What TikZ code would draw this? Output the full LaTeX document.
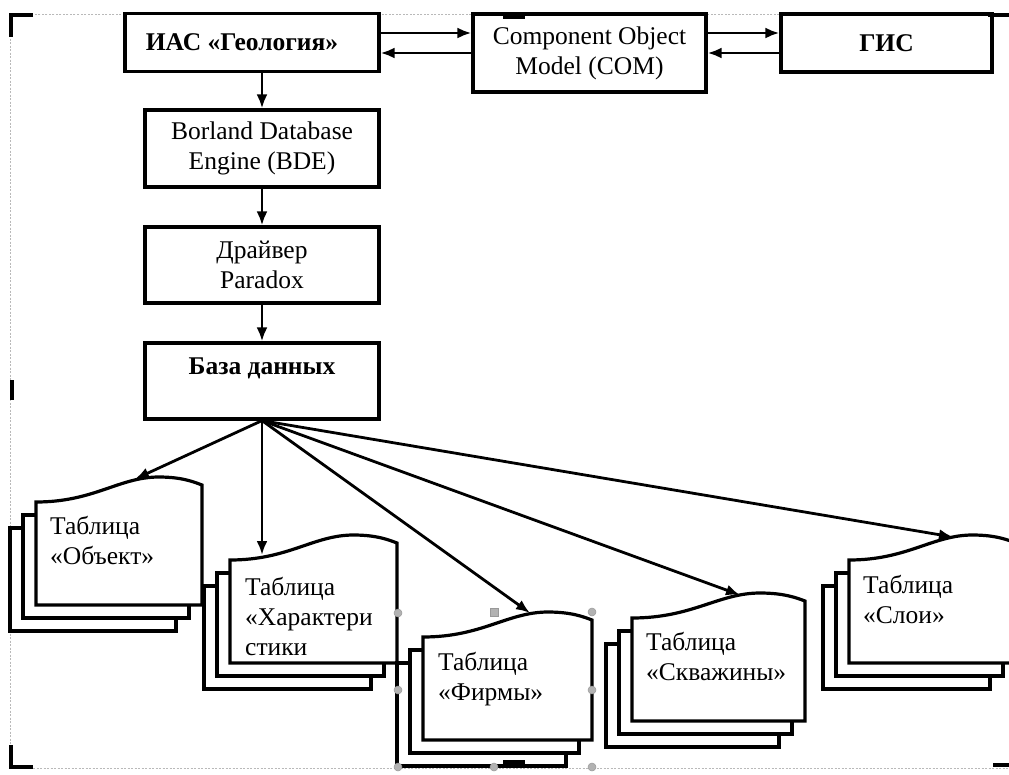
\documentclass[tikz,border=0pt]{standalone}
\usepackage{fontspec}
\setmainfont{Liberation Serif}
\usetikzlibrary{arrows.meta,calc}
\newcommand\mdocshape[5]{% #1 name, #2 L, #3 yTL, #4 R, #5 bottom
  \draw[doc] ({#2-26},{#3+26}) rectangle ({#4-26},{#5+26});
  \draw[doc] ({#2-13},{#3+13}) rectangle ({#4-13},{#5+13});
  \draw[doc] (#2,#3) .. controls ({#2+0.35*(#4-#2)},#3) and ({#2+0.5*(#4-#2)},{#3-25}) .. ({#2+0.74*(#4-#2)},{#3-25})
     .. controls ({#2+0.88*(#4-#2)},{#3-25}) and ({#4-8},{#3-20}) .. (#4,{#3-17}) -- (#4,#5) -- (#2,#5) -- cycle;
  \coordinate (#1) at ({(#2+#4)/2},{(#3+#5)/2});
}
\begin{document}
\begin{tikzpicture}[x=1pt,y=-1pt,
  box/.style={draw,line width=3.2pt,fill=white,align=center,inner sep=0pt,font=\fontsize{25.5}{30}\selectfont},
  bbox/.style={box,font=\fontsize{25.5}{30}\selectfont\bfseries},
  arr/.style={line width=2.8pt,-{Latex[length=14pt,width=11pt]}},
  doc/.style={draw,line width=3.2pt,fill=white,line join=miter},
  txt/.style={anchor=north west,align=left,inner sep=0pt,font=\fontsize{25.5}{30}\selectfont},
  frame/.style={gray!55,line width=0.9pt,dash pattern=on 2pt off 1.5pt},
  cropmark/.style={line width=3.2pt},
  handle/.style={fill=gray!60,draw=gray!80,line width=0.5pt}]
\useasboundingbox (0,0) rectangle (1009,774);
\clip (0,0) rectangle (1009,774);
\fill[white] (0,0) rectangle (1009,774);
\draw[frame] (10,14) rectangle (1030,768);

% top boxes
\node[bbox,minimum width=254pt,minimum height=58pt] (ias) at (252,42.5) {ИАС «Геология»\hspace{20pt}};
\node[box,minimum width=233pt,minimum height=78pt] (com) at (589.5,53) {Component Object\\Model (COM)};
\node[bbox,minimum width=211pt,minimum height=58pt] (gis) at (886.5,43) {ГИС};
\node[box,minimum width=234pt,minimum height=77pt] (bde) at (262,148.5) {Borland Database\\Engine (BDE)};
\node[box,minimum width=234pt,minimum height=76pt] (drv) at (262,265) {Драйвер\\Paradox};
\node[bbox,minimum width=234pt,minimum height=76pt] (db) at (262,381) {База данных\\\mbox{}};

\coordinate (ya) at (0,33);
\coordinate (yb) at (0,53);
\draw[arr] (ias.east |- ya) -- (com.west |- ya);
\draw[arr] (com.west |- yb) -- (ias.east |- yb);
\draw[arr] (com.east |- ya) -- (gis.west |- ya);
\draw[arr] (gis.west |- yb) -- (com.east |- yb);
\draw[arr] (bde.north |- ias.south) -- (bde.north);
\draw[arr] (bde) -- (drv);
\draw[arr] (drv) -- (db);

% documents
\mdocshape{dobj}{36}{502}{202}{605}
\mdocshape{dchar}{230}{560}{397}{663}
\mdocshape{dfirm}{423}{637}{592}{740}
\mdocshape{dwell}{632}{618}{805}{721}
\mdocshape{dlayer}{849}{560}{1016}{663}

\node[txt] (tobj) at (50,516) {Таблица\\«Объект»};
\node[txt] (tchar) at (245,577) {Таблица\\«Характери\\стики};
\node[txt] (tfirm) at (438,652) {Таблица\\«Фирмы»};
\node[txt] (twell) at (646,632) {Таблица\\«Скважины»};
\node[txt] (tlayer) at (863,575) {Таблица\\«Слои»};

\coordinate (aobj) at (135,479);
\coordinate (achar) at (262,555);
\coordinate (afirm) at (530,613);
\coordinate (awell) at (740,595);
\coordinate (alayer) at (953,537);
\draw[arr] (db.south) -- (aobj);
\draw[arr] (db.south) -- (achar);
\draw[arr] (db.south) -- (afirm);
\draw[arr] (db.south) -- (awell);
\draw[arr] (db.south) -- (alayer);

% crop marks
\draw[cropmark] (33,15) -- (11,15) -- (11,37);
\draw[cropmark] (11,745) -- (11,767) -- (33,767);
\draw[cropmark] (12,380) -- (12,400);
\draw[cropmark] (503,17) -- (525,17);
\draw[cropmark] (503,762) -- (525,762);
\draw[cropmark] (988,15) -- (1009,15);
\draw[cropmark] (993,765) -- (1009,765);

% selection handles
\foreach \p in {(398,613),(592,612),(398,690),(592,690),(398,767),(592,767),(494,767)}
  \fill[handle] \p circle (4);
\fill[handle] (490,608) rectangle (498,616);
\end{tikzpicture}
\end{document}
